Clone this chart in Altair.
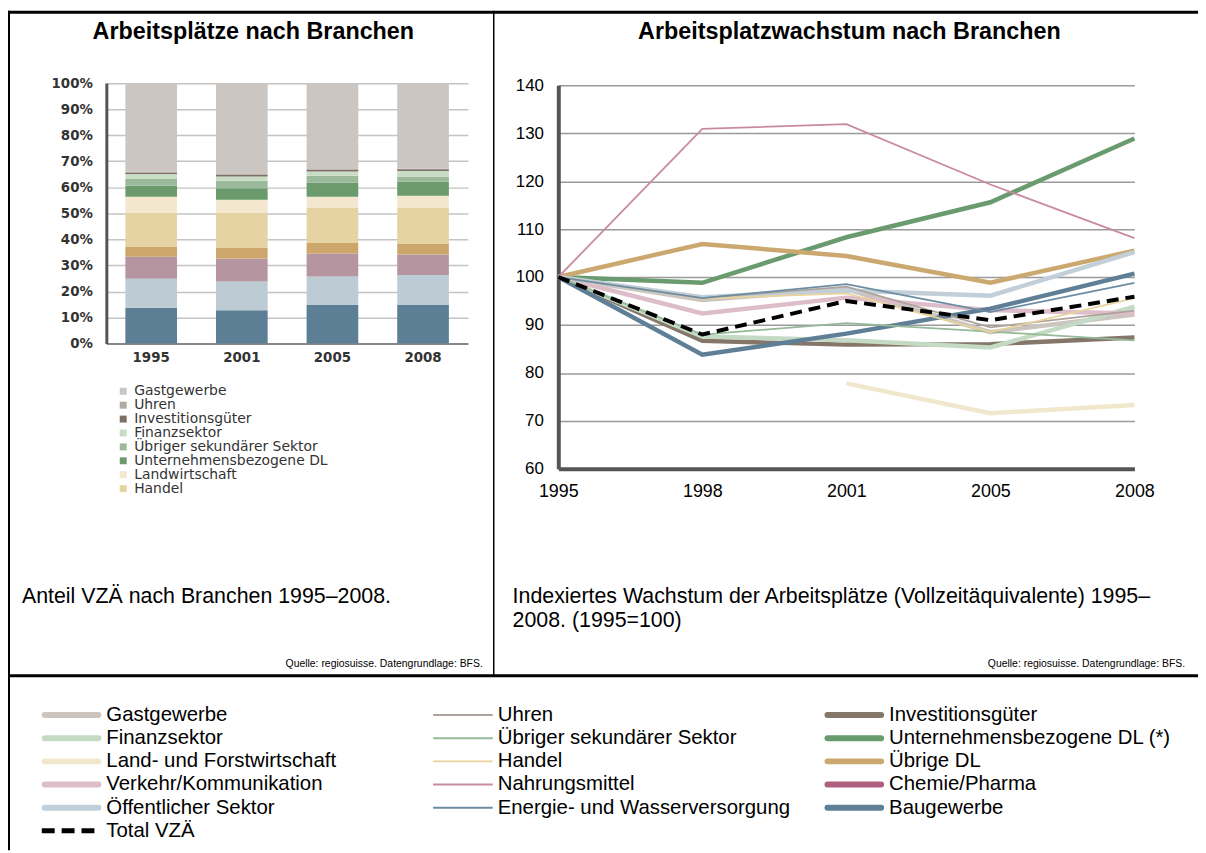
import altair as alt
import pandas as pd

# ---------------- left: stacked shares (percent) ----------------
bar_years = ["1995", "2001", "2005", "2008"]
bar_names = ["Baugewerbe", "Öffentlicher Sektor", "Verkehr/Kommunikation", "Übrige DL", "Handel",
             "Landwirtschaft", "Unternehmensbezogene DL", "Übriger sekundärer Sektor", "Finanzsektor",
             "Investitionsgüter", "Uhren", "Gastgewerbe"]
bar_colors = ["#5d7f96", "#bccbd4", "#b5959f", "#cca66b", "#e6d3a3",
              "#f3e7cf", "#6b9a6d", "#9bba9b", "#c8dcc6",
              "#7f6e62", "#b0aaa5", "#cbc6c1"]
share_1995 = [13.8, 11.1, 8.4, 3.8, 13.2, 6.1, 4.2, 2.6, 1.9, 0.6, 0.3, 34.0]
share_2001 = [12.8, 11.0, 8.9, 4.0, 13.6, 4.9, 4.4, 2.9, 1.6, 0.7, 0.3, 34.9]
share_2005 = [14.8, 10.9, 8.9, 4.0, 13.4, 4.4, 5.4, 2.6, 1.6, 0.7, 0.3, 33.0]
share_2008 = [14.8, 11.5, 7.9, 4.2, 13.6, 4.7, 5.5, 1.9, 2.1, 0.7, 0.3, 32.8]
bar_legend_names = ["Gastgewerbe", "Uhren", "Investitionsgüter", "Finanzsektor",
                    "Übriger sekundärer Sektor", "Unternehmensbezogene DL", "Landwirtschaft", "Handel"]
bar_ticks = [0, 10, 20, 30, 40, 50, 60, 70, 80, 90, 100]

# ---------------- right: indexed growth (1995=100) ----------------
years = ["1995", "1998", "2001", "2005", "2008"]
line_names = ["Gastgewerbe", "Uhren", "Investitionsgüter",
              "Finanzsektor", "Übriger sekundärer Sektor", "Unternehmensbezogene DL (*)",
              "Land- und Forstwirtschaft", "Handel", "Übrige DL",
              "Verkehr/Kommunikation", "Nahrungsmittel", "Chemie/Pharma",
              "Öffentlicher Sektor", "Energie- und Wasserversorgung", "Baugewerbe",
              "Total VZÄ"]
line_colors = ["#ccc5bf", "#ada39c", "#85766a",
               "#c4dac4", "#94ba98", "#6a9b6e",
               "#f1e7cd", "#e9d39d", "#cba86f",
               "#ddbdca", "#c98aa0", "#b0607e",
               "#c2cfd9", "#6b8ca3", "#5e7f95",
               "#000000"]
thin_names = ["Uhren", "Übriger sekundärer Sektor", "Handel", "Nahrungsmittel",
              "Energie- und Wasserversorgung"]
total_name = "Total VZÄ"

idx_gastgewerbe = [100, 95.2, 97.5, 88.5, 92.2]
idx_uhren = [100, 95.6, 98.0, 89.5, 93.0]
idx_investitionsgueter = [100, 86.7, 85.9, 86.0, 87.4]
idx_finanzsektor = [100, 87.6, 86.8, 85.3, 93.8]
idx_uebriger_sekundaer = [100, 88.0, 90.4, 88.6, 86.8]
idx_unternehmens_dl = [100, 98.8, 108.3, 115.6, 128.9]
idx_land_forst = [None, None, 77.8, 71.6, 73.3]
idx_handel = [100, 95.5, 96.6, 88.5, 95.6]
idx_uebrige_dl = [100, 106.9, 104.4, 98.8, 105.5]
idx_verkehr = [100, 92.4, 95.7, 93.1, 92.4]
idx_nahrungsmittel = [100, 130.9, 131.9, 119.3, 108.1]
idx_chemie = [None, None, None, None, None]
idx_oeffentlich = [100, 95.8, 97.2, 96.1, 105.2]
idx_energie = [100, 95.6, 98.5, 92.7, 98.8]
idx_baugewerbe = [100, 83.8, 88.2, 93.4, 100.7]
idx_total = [100, 88.0, 95.0, 91.0, 95.9]
line_ticks = [60, 70, 80, 90, 100, 110, 120, 130, 140]

title_left = "Arbeitsplätze nach Branchen"
title_right = "Arbeitsplatzwachstum nach Branchen"
caption_left = "Anteil VZÄ nach Branchen 1995–2008."
caption_right = "Indexiertes Wachstum der Arbeitsplätze (Vollzeitäquivalente) 1995–\n2008. (1995=100)"
source_text = "Quelle: regiosuisse. Datengrundlage: BFS."

# ---------------- tables ----------------
bar_rows = []
for yr, shares in zip(bar_years, [share_1995, share_2001, share_2005, share_2008]):
    for i, (n, v) in enumerate(zip(bar_names, shares)):
        bar_rows.append({"Jahr": yr, "Branche": n, "Anteil": v, "Stufe": i})
bar_df = pd.DataFrame(bar_rows)

series = [idx_gastgewerbe, idx_uhren, idx_investitionsgueter, idx_finanzsektor, idx_uebriger_sekundaer,
          idx_unternehmens_dl, idx_land_forst, idx_handel, idx_uebrige_dl, idx_verkehr,
          idx_nahrungsmittel, idx_chemie, idx_oeffentlich, idx_energie, idx_baugewerbe, idx_total]


def kind_of(n):
    if n == total_name:
        return "total"
    return "duenn" if n in thin_names else "dick"


line_rows = []
for n, vals in zip(line_names, series):
    for yr, v in zip(years, vals):
        if v is not None:
            line_rows.append({"Jahr": yr, "Branche": n, "Index": v, "Art": kind_of(n)})
line_df = pd.DataFrame(line_rows)

leg_df = pd.DataFrame([{"Branche": n, "Spalte": i % 3, "Zeile": i // 3, "Art": kind_of(n)}
                       for i, n in enumerate(line_names)])

FONT = "Liberation Sans"
W, H = 1198, 845

# ---------------- left chart ----------------
bars = alt.Chart(bar_df).mark_bar().encode(
    x=alt.X("Jahr:N",
            scale=alt.Scale(domain=bar_years, range=[99, 463], paddingInner=0.43, paddingOuter=0.21),
            axis=alt.Axis(orient="bottom", offset=335 - H, title=None, labelAngle=0, ticks=False,
                          labelFont="DejaVu Sans", labelFontWeight="bold", labelFontSize=13.5,
                          labelColor="#333", labelPadding=7, domainColor="#888", domainWidth=2,
                          grid=False)),
    y=alt.Y("Anteil:Q", stack="zero",
            scale=alt.Scale(domain=[0, 100], range=[335, 72.7], nice=False, zero=False),
            axis=alt.Axis(orient="left", offset=-99, values=bar_ticks, title=None, ticks=False,
                          labelExpr="datum.value + '%'", labelFont="DejaVu Sans",
                          labelFontWeight="bold", labelFontSize=13.5, labelColor="#333",
                          labelPadding=14, domainColor="#555", domainWidth=3,
                          grid=True, gridColor="#c4c4c4", gridWidth=1.5)),
    color=alt.Color("Branche:N", scale=alt.Scale(domain=bar_names, range=bar_colors),
                    legend=alt.Legend(orient="none", legendX=109, legendY=376, values=bar_legend_names,
                                      title=None, symbolType="square", symbolSize=49,
                                      symbolStrokeWidth=0, labelFont="DejaVu Sans", labelFontSize=14,
                                      labelColor="#333", rowPadding=0, labelOffset=4,
                                      labelLimit=400)),
    order=alt.Order("Stufe:Q"),
)

# ---------------- right chart ----------------
x_line = alt.X("Jahr:N",
               scale=alt.Scale(type="point", domain=years, range=[554, 1134], padding=0),
               axis=alt.Axis(orient="bottom", offset=461 - H, title=None, labelAngle=0, ticks=False,
                             labelFont=FONT, labelFontSize=18, labelColor="#000", labelPadding=14,
                             domainColor="#555", domainWidth=4, grid=False))
y_line = alt.Y("Index:Q",
               scale=alt.Scale(domain=[60, 140], range=[461, 75], nice=False, zero=False),
               axis=alt.Axis(orient="left", offset=-554, values=line_ticks, title=None, ticks=False,
                             labelFont=FONT, labelFontSize=17, labelColor="#000", labelPadding=15,
                             domainColor="#555", domainWidth=4, grid=True, gridColor="#9a9a9a",
                             gridWidth=1.5))
c_line = alt.Color("Branche:N", scale=alt.Scale(domain=line_names, range=line_colors), legend=None)

base = alt.Chart(line_df).encode(x=x_line, y=y_line, color=c_line, detail="Branche:N")
thick = base.transform_filter(alt.datum.Art == "dick").mark_line(strokeWidth=4.5)
thin = base.transform_filter(alt.datum.Art == "duenn").mark_line(strokeWidth=1.8)
total = base.transform_filter(alt.datum.Art == "total").mark_line(strokeWidth=4, strokeDash=[12, 7])
lines = alt.layer(thick, thin, total)

# ---------------- bottom legend ----------------
lx = alt.X("Spalte:Q", scale=alt.Scale(domain=[0, 2], range=[34, 822]), axis=None)
ly = alt.Y("Zeile:Q", scale=alt.Scale(domain=[0, 5], range=[709, 825.5]), axis=None)
lc = alt.Color("Branche:N", scale=alt.Scale(domain=line_names, range=line_colors), legend=None)
lbase = alt.Chart(leg_df).encode(x=lx, y=ly, color=lc)
leg_thick = lbase.transform_filter(alt.datum.Art == "dick").mark_rule(
    strokeWidth=6, strokeCap="round", xOffset=3, x2Offset=57).encode(x2="Spalte:Q")
leg_thin = lbase.transform_filter(alt.datum.Art == "duenn").mark_rule(
    strokeWidth=2, x2Offset=60).encode(x2="Spalte:Q")
leg_total = lbase.transform_filter(alt.datum.Art == "total").mark_rule(
    strokeWidth=5, strokeDash=[13, 7], x2Offset=54).encode(x2="Spalte:Q")
leg_text = lbase.mark_text(align="left", baseline="middle", dx=65, font=FONT, fontSize=20.5).encode(
    text="Branche:N", color=alt.value("#000"))
legend = alt.layer(leg_thick, leg_thin, leg_total, leg_text)

# ---------------- frame & texts ----------------
one = pd.DataFrame({"k": [0]})


def hline(y, x1, x2, w):
    return alt.Chart(one).mark_rule(color="#000", strokeWidth=w).encode(
        x=alt.value(x1), x2=alt.value(x2), y=alt.value(y))


def vline(x, y1, y2, w):
    return alt.Chart(one).mark_rule(color="#000", strokeWidth=w).encode(
        x=alt.value(x), y=alt.value(y1), y2=alt.value(y2))


def text(t, x, y, size, weight="normal", align="left", line_height=None):
    kw = dict(align=align, baseline="alphabetic", font=FONT, fontSize=size, fontWeight=weight,
              color="#000", lineBreak="\n")
    if line_height:
        kw["lineHeight"] = line_height
    return alt.Chart(pd.DataFrame({"t": [t]})).mark_text(**kw).encode(
        text="t:N", x=alt.value(x), y=alt.value(y))


frame = [
    hline(1.5, 0, W, 3),
    vline(1, 0, H, 2),
    vline(489, 0, 669, 1.5),
    hline(669.5, 0, W, 3),
]
texts = [
    text(title_left, 247, 28, 23.5, "bold", "center"),
    text(title_right, 847, 28, 23.5, "bold", "center"),
    text(caption_left, 14, 596, 21.5),
    text(caption_right, 508, 596, 21.5, line_height=24),
    text(source_text, 478, 661, 10.5, align="right"),
    text(source_text, 1185, 661, 10.5, align="right"),
]

chart = alt.layer(bars, lines, legend, *frame, *texts).resolve_scale(
    x="independent", y="independent", color="independent"
).properties(
    width=W, height=H, padding=0, autosize=alt.AutoSizeParams(type="none")
).configure_view(stroke=None)

chart.save("out.html", embed_options={"renderer": "svg", "actions": False})
